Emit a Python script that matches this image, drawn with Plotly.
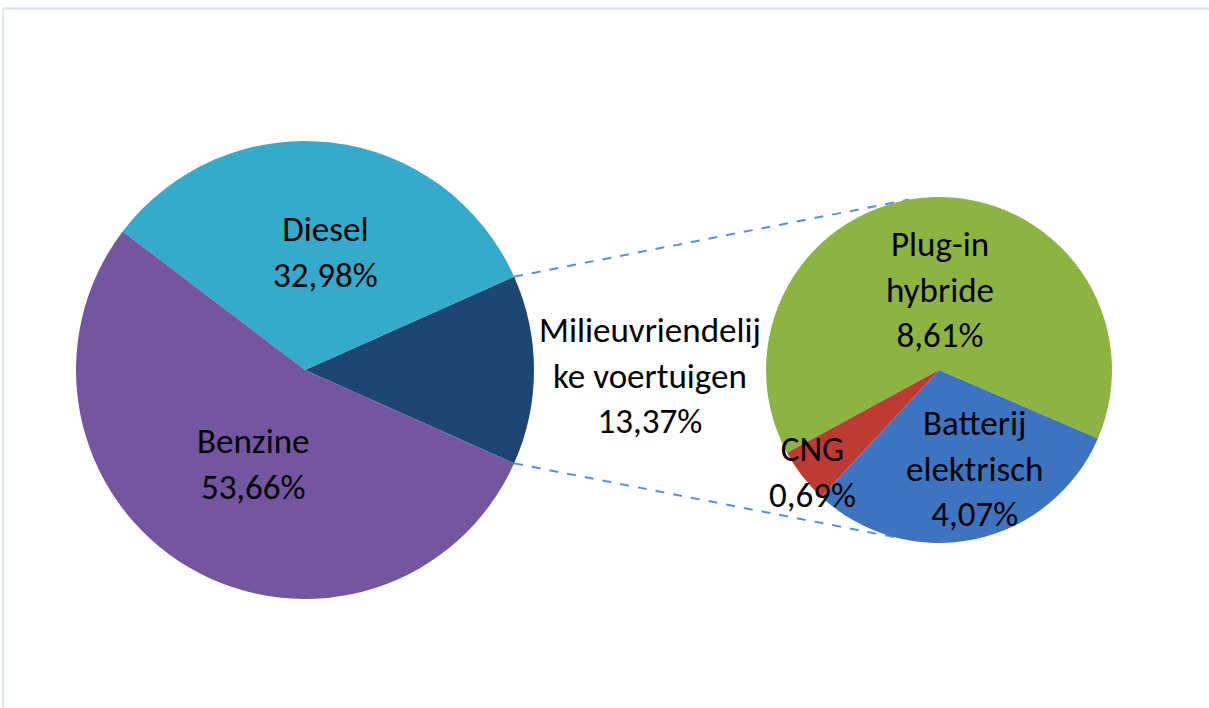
import math
import plotly.graph_objects as go

# ---- data ----
main_labels = ["Milieuvriendelij<br>ke voertuigen", "Diesel", "Benzine"]
main_values = [13.37, 32.98, 53.66]
main_colors = ["#1D4672", "#35AACB", "#7455A0"]

sub_labels = ["Plug-in<br>hybride", "CNG", "Batterij<br>elektrisch"]
sub_values = [8.61, 0.69, 4.07]
sub_colors = ["#8DB443", "#BE3A35", "#3E74BF"]

W, H = 1209, 708

# pie geometry (pixels)
L_CX, L_CY, L_R = 305, 370, 229
R_CX, R_CY, R_R = 939, 370, 173

def dom(cx, cy, r):
    return dict(x=[(cx - r) / W, (cx + r) / W], y=[1 - (cy + r) / H, 1 - (cy - r) / H])

def fmt(v):
    return ("%.2f" % v).replace(".", ",") + "%"

half_main = main_values[0] / sum(main_values) * 360 / 2
sub_start = 23.3  # degrees below east where Plug-in begins
sub_first = sub_values[0] / sum(sub_values) * 360

fig = go.Figure()
# counterclockwise in plotly: first slice occupies [rotation, rotation + v0] (clockwise from 12 o'clock)
fig.add_trace(go.Pie(
    values=main_values, labels=main_labels, sort=False, direction="counterclockwise",
    rotation=90 - half_main, marker=dict(colors=main_colors, line=dict(width=0)),
    textinfo="none", hoverinfo="label+percent", domain=dom(L_CX, L_CY, L_R), showlegend=False,
))
fig.add_trace(go.Pie(
    values=sub_values, labels=sub_labels, sort=False, direction="counterclockwise",
    rotation=90 + sub_start - sub_first, marker=dict(colors=sub_colors, line=dict(width=0)),
    textinfo="none", hoverinfo="label+percent", domain=dom(R_CX, R_CY, R_R), showlegend=False,
))

# label positions (pixels, text block centres)
main_pos = [(650, 375), (325, 252), (253, 464)]
sub_pos = [(940, 290), (812, 472), (975, 468)]
font = dict(family="Carlito, Lato, sans-serif", size=35, color="#000000")
ann = []
for (lab, v, (x, y)) in zip(main_labels, main_values, main_pos):
    ann.append(dict(text=lab + "<br>" + fmt(v), x=x / W, y=1 - y / H, xref="paper", yref="paper",
                    showarrow=False, font=font, xanchor="center", yanchor="middle"))
for (lab, v, (x, y)) in zip(sub_labels, sub_values, sub_pos):
    ann.append(dict(text=lab + "<br>" + fmt(v), x=x / W, y=1 - y / H, xref="paper", yref="paper",
                    showarrow=False, font=font, xanchor="center", yanchor="middle"))

# connector lines
shapes = []
for sgn, ang_r in [(1, 100), (-1, 255)]:
    a = math.radians(sgn * half_main)
    x0, y0 = L_CX + L_R * math.cos(a), L_CY - L_R * math.sin(a)
    b = math.radians(ang_r)
    x1, y1 = R_CX + R_R * math.cos(b), R_CY - R_R * math.sin(b)
    shapes.append(dict(type="line", xref="paper", yref="paper",
                       x0=x0 / W, y0=1 - y0 / H, x1=x1 / W, y1=1 - y1 / H,
                       line=dict(color="#5B8FD8", width=2, dash="dash"), layer="below"))
# frame
shapes.append(dict(type="line", xref="paper", yref="paper", x0=3 / W, x1=1, y0=1 - 8.5 / H, y1=1 - 8.5 / H,
                   line=dict(color="#D3E0EC", width=2)))
shapes.append(dict(type="line", xref="paper", yref="paper", x0=3 / W, x1=3 / W, y0=0, y1=1 - 8.5 / H,
                   line=dict(color="#D3E0EC", width=1.5)))

fig.update_layout(width=W, height=H, margin=dict(l=0, r=0, t=0, b=0),
                  paper_bgcolor="white", plot_bgcolor="white",
                  annotations=ann, shapes=shapes)
fig.write_html("out.html", config={"displayModeBar": False},
               post_script="document.body.style.margin='0';")
